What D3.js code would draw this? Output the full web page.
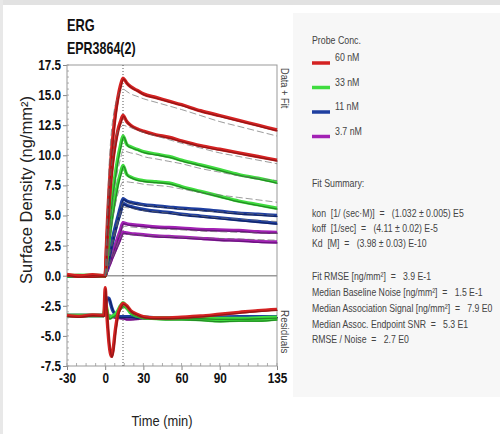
<!DOCTYPE html>
<html>
<head>
<meta charset="utf-8">
<script src="https://cdn.jsdelivr.net/npm/d3@7"></script>
<style>
	body { margin: 0; background: #fff; }
	svg text { font-family: "Liberation Sans", Arial, sans-serif; }
</style>
</head>
<body>

<svg id="chart" width="500" height="434"></svg>

<script type="text/javascript">

	// sample times (min)
	var times = [-30, -20, -10, -1, 0, 1, 2, 3, 4, 5, 6, 8, 10, 12, 14, 17, 20, 25, 30, 40, 50, 60, 75, 90, 105, 120, 135];

	// surface density, two spots per concentration, plus their fits
	var red1 = [0.1, -0.05, 0.08, 0, 0, 2.5, 5, 7, 8.8, 10.3, 11.5, 13.4, 14.8, 15.8, 16.4, 16.0, 15.7, 15.4, 15.1, 14.8, 14.5, 14.2, 13.7, 13.3, 12.9, 12.5, 12.1];
	var red1Fit = [0, 0, 0, 0, 0, 3.5, 6.5, 9, 10.8, 12.1, 13, 14.2, 14.9, 15.3, 15.5, 15.3, 15.1, 14.9, 14.7, 14.4, 14.1, 13.8, 13.3, 12.8, 12.4, 12.0, 11.6];
	var red2 = [0.05, 0, -0.05, 0.02, 0, 2, 4, 5.8, 7.3, 8.5, 9.5, 11, 12.1, 12.8, 13.3, 12.8, 12.5, 12.2, 12.0, 11.7, 11.5, 11.2, 10.8, 10.5, 10.2, 9.9, 9.6];
	var red2Fit = [0, 0, 0, 0, 0, 2.7, 5, 6.8, 8.2, 9.3, 10.2, 11.3, 12.0, 12.3, 12.5, 12.4, 12.3, 12.1, 11.9, 11.6, 11.3, 11.0, 10.6, 10.2, 9.9, 9.6, 9.3];
	var green1 = [0, 0.05, 0, -0.03, 0, 1.4, 2.8, 4.0, 5.1, 6.1, 7.0, 8.5, 9.8, 10.8, 11.6, 10.9, 10.7, 10.5, 10.3, 10.1, 9.9, 9.6, 9.2, 8.8, 8.4, 8.1, 7.75];
	var green1Fit = [0, 0, 0, 0, 0, 1.3, 2.5, 3.6, 4.6, 5.5, 6.3, 7.7, 8.8, 9.7, 10.4, 10.3, 10.2, 10.1, 9.9, 9.7, 9.5, 9.3, 8.9, 8.6, 8.3, 8.1, 7.9];
	var green2 = [0, 0, 0.04, 0, 0, 1.0, 2.0, 2.9, 3.8, 4.6, 5.3, 6.6, 7.7, 8.5, 9.15, 8.4, 8.2, 8.0, 7.9, 7.8, 7.7, 7.4, 7.0, 6.6, 6.2, 5.9, 5.6];
	var green2Fit = [0, 0, 0, 0, 0, 0.9, 1.8, 2.6, 3.4, 4.1, 4.8, 5.9, 6.8, 7.4, 7.8, 7.8, 7.75, 7.7, 7.6, 7.5, 7.4, 7.2, 6.9, 6.7, 6.5, 6.3, 6.1];
	var blue1 = [0, 0, 0, 0, 0, 0.6, 1.2, 1.7, 2.2, 2.7, 3.2, 4.1, 4.9, 5.7, 6.4, 6.2, 6.1, 6.0, 5.9, 5.8, 5.7, 5.6, 5.5, 5.35, 5.2, 5.1, 5.0];
	var blue1Fit = [0, 0, 0, 0, 0, 0.6, 1.15, 1.7, 2.2, 2.65, 3.1, 3.9, 4.7, 5.4, 6.1, 6.05, 6.0, 5.9, 5.85, 5.75, 5.65, 5.55, 5.4, 5.3, 5.2, 5.1, 5.0];
	var blue2 = [0, 0, 0, 0, 0, 0.5, 1.0, 1.5, 2.0, 2.45, 2.9, 3.8, 4.6, 5.3, 6.0, 5.85, 5.75, 5.6, 5.5, 5.35, 5.25, 5.1, 4.95, 4.8, 4.65, 4.5, 4.35];
	var blue2Fit = [0, 0, 0, 0, 0, 0.5, 1.0, 1.45, 1.9, 2.35, 2.8, 3.6, 4.4, 5.1, 5.7, 5.65, 5.6, 5.5, 5.4, 5.3, 5.2, 5.1, 4.95, 4.8, 4.7, 4.6, 4.5];
	var purple1 = [0, 0, 0, 0, 0, 0.35, 0.7, 1.0, 1.35, 1.7, 2.0, 2.6, 3.2, 3.8, 4.4, 4.3, 4.25, 4.2, 4.15, 4.05, 4.0, 3.95, 3.85, 3.8, 3.75, 3.65, 3.6];
	var purple1Fit = [0, 0, 0, 0, 0, 0.35, 0.7, 1.0, 1.3, 1.6, 1.9, 2.5, 3.1, 3.6, 4.1, 4.1, 4.05, 4.0, 3.95, 3.9, 3.85, 3.8, 3.7, 3.65, 3.6, 3.55, 3.5];
	var purple2 = [0, 0, 0, 0, 0, 0.3, 0.55, 0.85, 1.1, 1.4, 1.65, 2.15, 2.65, 3.15, 3.6, 3.55, 3.5, 3.45, 3.4, 3.3, 3.25, 3.2, 3.1, 3.0, 2.95, 2.85, 2.8];
	var purple2Fit = [0, 0, 0, 0, 0, 0.3, 0.55, 0.8, 1.05, 1.3, 1.55, 2.05, 2.55, 3.0, 3.45, 3.45, 3.4, 3.4, 3.35, 3.3, 3.25, 3.2, 3.15, 3.1, 3.05, 3.0, 2.95];

	// residuals (drawn with an offset below zero)
	var residRed = [-3.3, -3.38, -3.25, -3.3, -1.0, -2.8, -4.3, -5.6, -6.4, -6.7, -6.3, -4.5, -3.2, -2.6, -2.3, -2.5, -2.9, -3.2, -3.4, -3.5, -3.5, -3.45, -3.35, -3.2, -3.05, -2.9, -2.8];
	var residGreen1 = [-3.3, -3.3, -3.3, -3.3, -2.3, -2.6, -3.2, -3.5, -3.5, -3.4, -3.35, -3.2, -2.9, -2.5, -2.25, -2.6, -3.0, -3.3, -3.45, -3.5, -3.5, -3.5, -3.5, -3.55, -3.55, -3.5, -3.45];
	var residGreen2 = [-3.3, -3.3, -3.3, -3.3, -2.5, -2.8, -3.3, -3.5, -3.45, -3.4, -3.35, -3.25, -3.0, -2.7, -2.5, -2.7, -3.1, -3.35, -3.5, -3.55, -3.6, -3.6, -3.65, -3.75, -3.7, -3.7, -3.6];
	var residBlue = [-3.3, -3.3, -3.3, -3.3, -2.6, -2.0, -1.85, -1.9, -2.2, -2.6, -2.9, -3.2, -3.35, -3.4, -3.4, -3.4, -3.4, -3.45, -3.45, -3.5, -3.5, -3.5, -3.45, -3.45, -3.4, -3.4, -3.4];
	var residPurple = [-3.3, -3.3, -3.3, -3.3, -3.2, -3.25, -3.3, -3.35, -3.35, -3.4, -3.4, -3.45, -3.45, -3.5, -3.5, -3.6, -3.6, -3.55, -3.5, -3.5, -3.5, -3.5, -3.45, -3.45, -3.45, -3.45, -3.4];

	var injectionEnd = 14;

	var xTicks = [-30, 0, 30, 60, 90, 135];
	var yTicks = [-7.5, -5.0, -2.5, 0.0, 2.5, 5.0, 7.5, 10.0, 12.5, 15.0, 17.5];

	var legendLabels = ["60 nM", "33 nM", "11 nM", "3.7 nM"];
	var legendColors = ["#d42222", "#3fdc3f", "#1f3fa0", "#a222b4"];
	var darkColors = ["#8a1414", "#1f7d1f", "#0e1f5c", "#5c1070"];

	var fitLines = [
		"kon  [1/ (sec\u00b7M)]  =   (1.032 \u00b1 0.005) E5",
		"koff  [1/sec]  =   (4.11 \u00b1 0.02) E-5",
		"Kd  [M]  =   (3.98 \u00b1 0.03) E-10",
		"",
		"Fit RMSE [ng/mm\u00b2]  =   3.9 E-1",
		"Median Baseline Noise [ng/mm\u00b2]  =   1.5 E-1",
		"Median Association Signal [ng/mm\u00b2]  =   7.9 E0",
		"Median Assoc. Endpoint SNR  =   5.3 E1",
		"RMSE / Noise  =   2.7 E0"
	];

	var svg = d3.select("#chart");

	// squeeze a text horizontally (the original uses a narrow face)
	function squeeze(sel, k) {
		sel.attr("transform", "scale(" + k + ",1)");
	}

	// text placed at (px, py), optionally rotated, drawn narrow
	function label(parent, px, py, rot, str, k) {
		var g = parent.append("g").attr("transform", "translate(" + px + "," + py + ") rotate(" + rot + ")");
		var t = g.append("text").text(str);
		squeeze(t, k);
		return t;
	}

	// page frame
	svg.append("rect").attr("x", 0).attr("y", 0).attr("width", 500).attr("height", 5).attr("fill", "#e2e2e2");
	svg.append("rect").attr("x", 0).attr("y", 0).attr("width", 3).attr("height", 434).attr("fill", "#e8e8e8");
	svg.append("rect").attr("x", 293).attr("y", 13).attr("width", 207).attr("height", 384).attr("fill", "#f7f7f7");

	var x = d3.scaleLinear().domain([-30, 135]).range([67, 277]);
	var y = d3.scaleLinear().domain([-7.5, 17.5]).range([366, 65]);

	// titles
	label(svg, 67, 31, 0, "ERG", 0.8).attr("font-size", 16).attr("font-weight", "bold").attr("fill", "#111");
	label(svg, 67, 54, 0, "EPR3864(2)", 0.78).attr("font-size", 16).attr("font-weight", "bold").attr("fill", "#111");

	// minor ticks
	var plot = svg.append("g");
	plot.selectAll(".ymin").data(d3.range(-7.5, 17.51, 0.5)).enter().append("line")
		.attr("x1", x(-30)).attr("x2", x(-30) + 2)
		.attr("y1", function(d) { return y(d); }).attr("y2", function(d) { return y(d); })
		.attr("stroke", "#999").attr("stroke-width", 0.8);
	plot.selectAll(".xmin").data(d3.range(-30, 135.1, 7.5)).enter().append("line")
		.attr("x1", function(d) { return x(d); }).attr("x2", function(d) { return x(d); })
		.attr("y1", y(-7.5)).attr("y2", y(-7.5) - 3)
		.attr("stroke", "#999").attr("stroke-width", 0.8);

	// axes
	var yAxis = d3.axisLeft(y).tickValues(yTicks)
		.tickFormat(function(d) { return d.toFixed(1); }).tickSize(4).tickPadding(2);
	var xAxis = d3.axisBottom(x).tickValues(xTicks)
		.tickFormat(function(d) { return "" + d; }).tickSize(4).tickPadding(3);

	var gy = svg.append("g").attr("transform", "translate(" + x(-30) + ",0)").call(yAxis);
	var gx = svg.append("g").attr("transform", "translate(0," + y(-7.5) + ")").call(xAxis);
	[gx, gy].forEach(function(g) {
		g.select(".domain").remove();
		g.selectAll("line").attr("stroke", "#888");
		g.selectAll("text").attr("font-size", 14).attr("font-weight", "bold").attr("fill", "#111")
			.style("font-family", "\"Liberation Sans\", Arial, sans-serif");
	});
	// narrow tick labels, keeping their anchor
	gy.selectAll(".tick text").each(function() {
		var t = d3.select(this);
		t.attr("transform", "translate(" + t.attr("x") + ",0) scale(0.84,1)").attr("x", 0);
	});
	gx.selectAll(".tick text").attr("transform", "scale(0.84,1)");

	// frame and zero line
	svg.append("rect").attr("x", x(-30)).attr("y", y(17.5))
		.attr("width", x(135) - x(-30)).attr("height", y(-7.5) - y(17.5))
		.attr("fill", "none").attr("stroke", "#999").attr("stroke-width", 1);
	svg.append("line").attr("x1", x(-30)).attr("x2", x(135))
		.attr("y1", y(0)).attr("y2", y(0))
		.attr("stroke", "#9a9a9a").attr("stroke-width", 1.6);
	svg.append("line").attr("x1", x(injectionEnd)).attr("x2", x(injectionEnd))
		.attr("y1", y(17.5)).attr("y2", y(-7.5))
		.attr("stroke", "#555").attr("stroke-width", 1).attr("stroke-dasharray", "1,2");

	var line = d3.line()
		.x(function(d) { return x(d[0]); })
		.y(function(d) { return y(d[1]); })
		.curve(d3.curveMonotoneX);

	function pairs(vals) {
		return vals.map(function(v, i) { return [times[i], v]; });
	}

	// concentration index: 0 red, 1 green, 2 blue, 3 purple
	var dataSeries = [
		{ c: 3, v: purple2 }, { c: 3, v: purple1 },
		{ c: 2, v: blue2 }, { c: 2, v: blue1 },
		{ c: 1, v: green2 }, { c: 1, v: green1 },
		{ c: 0, v: red2 }, { c: 0, v: red1 }
	];
	var fitSeries = [purple2Fit, purple1Fit, blue2Fit, blue1Fit, green2Fit, green1Fit, red2Fit, red1Fit];
	var residSeries = [
		{ c: 3, v: residPurple }, { c: 2, v: residBlue },
		{ c: 1, v: residGreen2 }, { c: 1, v: residGreen1 },
		{ c: 0, v: residRed }
	];

	function drawData(list) {
		var g = svg.append("g");
		list.forEach(function(s) {
			g.append("path").attr("d", line(pairs(s.v)))
				.attr("fill", "none").attr("stroke", legendColors[s.c]).attr("stroke-width", 3.4)
				.attr("stroke-linejoin", "round");
			g.append("path").attr("d", line(pairs(s.v)))
				.attr("transform", "translate(0.6,0.9)")
				.attr("fill", "none").attr("stroke", darkColors[s.c]).attr("stroke-width", 1.3)
				.attr("stroke-opacity", 0.85);
		});
	}

	drawData(residSeries);
	drawData(dataSeries);

	// fits, only over the association / dissociation part
	var fitG = svg.append("g");
	fitSeries.forEach(function(f) {
		fitG.append("path")
			.attr("d", line(pairs(f).filter(function(p) { return p[0] >= 0; })))
			.attr("fill", "none").attr("stroke", "#6a6a6a").attr("stroke-width", 0.9)
			.attr("stroke-dasharray", "7,3").attr("stroke-opacity", 0.75);
	});

	// side labels
	label(svg, 281, 68, 90, "Data + Fit", 0.84).attr("font-size", 11).attr("fill", "#444");
	label(svg, 281, 310, 90, "Residuals", 0.9).attr("font-size", 11).attr("fill", "#444");

	// axis titles
	label(svg, 32, 190, -90, "Surface Density (ng/mm\u00b2)", 1)
		.attr("text-anchor", "middle").attr("font-size", 16.5).attr("fill", "#222");
	label(svg, 162, 426, 0, "Time (min)", 0.86)
		.attr("text-anchor", "middle").attr("font-size", 15).attr("fill", "#222");

	// legend panel
	var panel = svg.append("g").attr("fill", "#444").attr("font-size", 11);
	label(panel, 312, 44, 0, "Probe Conc.", 0.8);
	var item = panel.selectAll(".leg").data(legendLabels).enter().append("g")
		.attr("transform", function(d, i) { return "translate(312," + (62 + i * 24.5) + ")"; });
	item.append("line").attr("x1", 0).attr("x2", 18).attr("y1", 1).attr("y2", 1)
		.attr("stroke", function(d, i) { return legendColors[i]; }).attr("stroke-width", 3.5);
	item.append("text").attr("transform", "translate(23,-1) scale(0.8,1)").text(function(d) { return d; });

	label(panel, 312, 187, 0, "Fit Summary:", 0.8);
	panel.selectAll(".fit").data(fitLines).enter().append("g")
		.attr("transform", function(d, i) { return "translate(312," + (217 + i * (i < 4 ? 15 : 15.8)) + ")"; })
		.append("text")
		.attr("transform", "scale(0.79,1)")
		.style("white-space", "pre")
		.text(function(d) { return d; });

</script>

</body>
</html>
